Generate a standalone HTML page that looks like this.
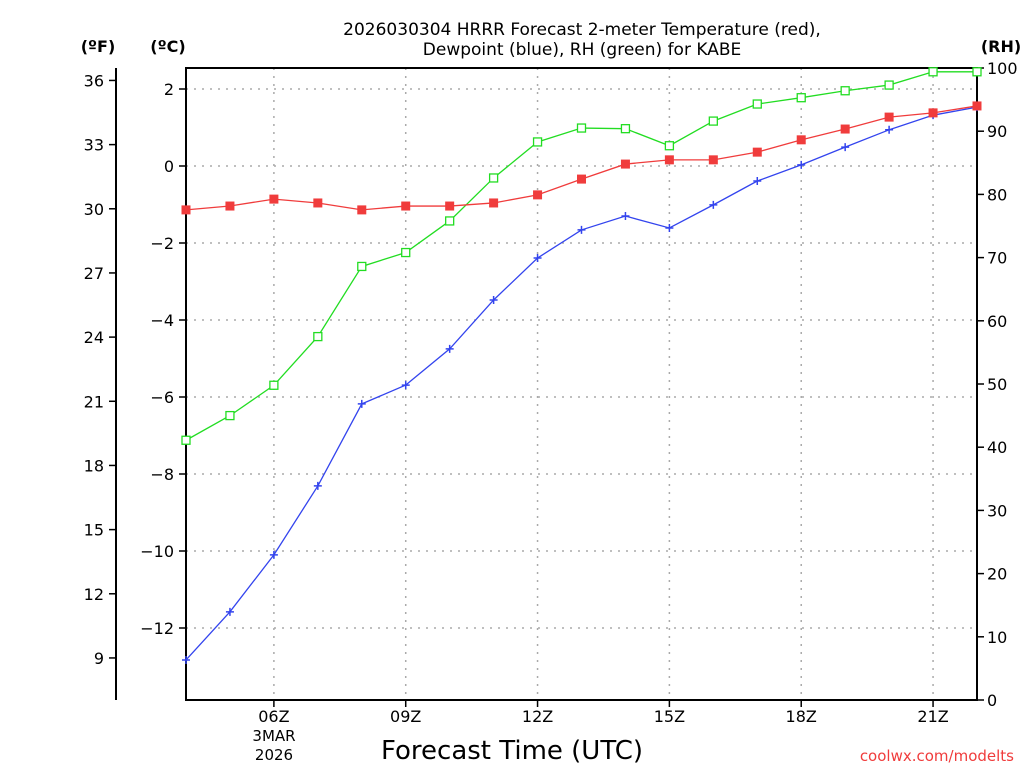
<!DOCTYPE html>
<html><head><meta charset="utf-8"><style>
html,body{margin:0;padding:0;background:#fff;}
svg{display:block;font-family:"DejaVu Sans","Liberation Sans",sans-serif;}
</style></head><body>
<svg id="chart" width="1024" height="768" viewBox="0 0 1024 768" xmlns="http://www.w3.org/2000/svg">
<text x="582" y="35" font-size="17" text-anchor="middle">2026030304 HRRR Forecast 2-meter Temperature (red),</text>
<text x="582" y="55" font-size="17" text-anchor="middle">Dewpoint (blue), RH (green) for KABE</text>
<text x="98" y="52" font-size="16" font-weight="bold" text-anchor="middle">(ºF)</text>
<text x="168" y="52" font-size="16" font-weight="bold" text-anchor="middle">(ºC)</text>
<text x="1001" y="52" font-size="16" font-weight="bold" text-anchor="middle">(RH)</text>
<text x="512" y="759" font-size="26" text-anchor="middle">Forecast Time (UTC)</text>
<text x="274" y="741" font-size="15" text-anchor="middle">3MAR</text>
<text x="274" y="760" font-size="15" text-anchor="middle">2026</text>
<text x="1014" y="761" font-size="15" fill="#f03c3c" text-anchor="end">coolwx.com/modelts</text>
<g id="g"></g>
</svg>
<script>
const hours = [4,5,6,7,8,9,10,11,12,13,14,15,16,17,18,19,20,21,22];
const tempC = [-1.14,-1.04,-0.86,-0.96,-1.14,-1.04,-1.04,-0.96,-0.75,-0.34,0.05,0.16,0.16,0.36,0.68,0.96,1.27,1.38,1.56];
const dewC = [-12.83,-11.58,-10.10,-8.31,-6.18,-5.69,-4.75,-3.48,-2.39,-1.66,-1.30,-1.61,-1.01,-0.39,0.03,0.49,0.94,1.32,1.53];
const rh = [41.1,45.0,49.8,57.5,68.6,70.8,75.8,82.6,88.3,90.5,90.4,87.7,91.6,94.3,95.3,96.4,97.3,99.4,99.4];
const xTicks = [6,9,12,15,18,21];
const cTicks = [2,0,-2,-4,-6,-8,-10,-12];
const fTicks = [36,33,30,27,24,21,18,15,12,9];
const rhTicks = [0,10,20,30,40,50,60,70,80,90,100];

const L=186,R=977,T=68,B=700;
const x = h => L + (h-4)*(R-L)/18;
const yC = c => 166 - c*38.5;
const yF = f => yC((f-32)*5/9);
const yR = r => B - r*(B-T)/100;
const g = document.getElementById('g');
const NS='http://www.w3.org/2000/svg';
function mk(tag, attrs){const e=document.createElementNS(NS,tag);for(const k in attrs)e.setAttribute(k,attrs[k]);g.appendChild(e);return e;}

// grid
cTicks.forEach(c=>{
  const e=mk('line',{x1:L,x2:R,y1:yC(c),y2:yC(c),stroke:'#aaa','stroke-width':1.5,'stroke-dasharray':'2,6'});
  
  
});
xTicks.forEach(h=>{
  const e=mk('line',{x1:x(h),x2:x(h),y1:T,y2:B,stroke:'#aaa','stroke-width':1.5,'stroke-dasharray':'2,6'});
  
  
});
// frame
const fr=mk('rect',{x:L,y:T,width:R-L,height:B-T,fill:'none',stroke:'#000','stroke-width':2});


const fa=mk('line',{x1:116,x2:116,y1:T,y2:B,stroke:'#000','stroke-width':2});



cTicks.forEach(c=>{
  mk('line',{x1:L-7,x2:L,y1:yC(c),y2:yC(c),stroke:'#000','stroke-width':1.5});
  const t=mk('text',{x:L-12,y:yC(c)+6,'font-size':16,'text-anchor':'end'});
  t.textContent=(c<0?'\u2212'+(-c):c);
  
  
});
fTicks.forEach(f=>{
  mk('line',{x1:109,x2:116,y1:yF(f),y2:yF(f),stroke:'#000','stroke-width':1.5});
  const t=mk('text',{x:104,y:yF(f)+6,'font-size':16,'text-anchor':'end'});
  t.textContent=f;
  
  
});
rhTicks.forEach(r=>{
  mk('line',{x1:R,x2:R+7,y1:yR(r),y2:yR(r),stroke:'#000','stroke-width':1.5});
  const t=mk('text',{x:R+10,y:yR(r)+6,'font-size':16,'text-anchor':'start'});
  t.textContent=r;
  
  
});
xTicks.forEach(h=>{
  mk('line',{x1:x(h),x2:x(h),y1:B,y2:B+7,stroke:'#000','stroke-width':1.5});
  const t=mk('text',{x:x(h),y:722,'font-size':16,'text-anchor':'middle'});
  t.textContent=String(h).padStart(2,'0')+'Z';
  
  
});

function series(vals, yf, color, name, marker){
  const pts=vals.map((v,i)=>x(hours[i])+','+yf(v)).join(' ');
  const pl=mk('polyline',{points:pts,fill:'none',stroke:color,'stroke-width':1.3});
  
  
  vals.forEach((v,i)=>{
    const cx=x(hours[i]),cy=yf(v);
    let m;
    if(marker==='sq'){m=mk('rect',{x:cx-4.5,y:cy-4.5,width:9,height:9,fill:color});}
    else if(marker==='open'){m=mk('rect',{x:cx-4,y:cy-4,width:8,height:8,fill:'#fff',stroke:color,'stroke-width':1.3});}
    else {m=mk('path',{d:`M${cx-4},${cy}H${cx+4}M${cx},${cy-4}V${cy+4}`,stroke:color,'stroke-width':1.5});}
    
    
  });
}
series(rh, yR, '#22dd22', 'rh', 'open');
series(dewC, yC, '#3344ee', 'dewpoint', 'plus');
series(tempC, yC, '#f03c3c', 'temperature', 'sq');
</script>
</body></html>
